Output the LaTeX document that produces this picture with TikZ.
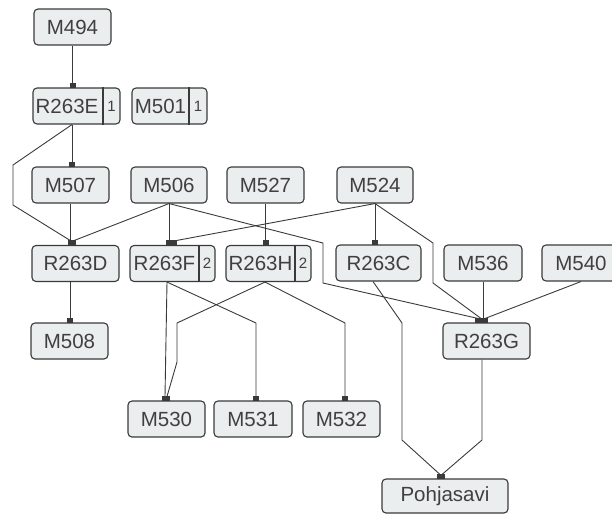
\documentclass[tikz,border=0pt]{standalone}
\usepackage{fontspec}
\setmainfont{Liberation Sans}
\usetikzlibrary{arrows.meta,calc}
\definecolor{boxfill}{HTML}{EBEEEE}
\definecolor{linec}{HTML}{3A3A3A}
\definecolor{txtc}{HTML}{404040}
\newcommand\lblfont{\fontsize{20.5}{24}\selectfont}
\newcommand\numfont{\fontsize{15}{17}\selectfont}
\tikzset{
  box/.style={draw=linec, fill=boxfill, rounded corners=4pt, line width=1.1pt,
    minimum height=36pt, inner sep=0pt, font=\lblfont, text=txtc},
  lbl/.style={inner sep=0pt, font=\lblfont, text=txtc},
  num/.style={inner sep=0pt, font=\numfont, text=txtc},
  divider/.style={draw=linec, line width=1.1pt},
  link/.style={draw=linec, line width=0.9pt, -{Square[length=4.5pt,width=6pt]}},
}
\begin{document}
\begin{tikzpicture}[x=1pt,y=-1pt]
\useasboundingbox (0,0) rectangle (612,515);
% row 1
\node[box, minimum width=77pt] (m494) at (72.5,27) {M494};
% row 2
\node[box, minimum width=87pt] (r263e) at (76.5,106) {};
\node[lbl] (r263eL) at (67,106) {R263E};
\draw[divider] (r263e.north -| 103,0) -- (r263e.south -| 103,0);
\node[num] (r263eN) at (111.5,106) {1};
\node[box, minimum width=75pt] (m501) at (169.5,106) {};
\node[lbl] (m501L) at (160.5,106) {M501};
\draw[divider] (m501.north -| 189,0) -- (m501.south -| 189,0);
\node[num] (m501N) at (198,106) {1};
% row 3
\node[box, minimum width=77pt] (m507) at (70.5,185) {M507};
\node[box, minimum width=76pt] (m506) at (169,185) {M506};
\node[box, minimum width=77pt] (m527) at (265.5,185) {M527};
\node[box, minimum width=76pt] (m524) at (375,185) {M524};
% row 4
\node[box, minimum width=87pt] (r263d) at (75.5,263.5) {R263D};
\node[box, minimum width=85pt] (r263f) at (172.5,263.5) {};
\node[lbl] (r263fL) at (164.5,263.5) {R263F};
\draw[divider] (r263f.north -| 199,0) -- (r263f.south -| 199,0);
\node[num] (r263fN) at (207,263.5) {2};
\node[box, minimum width=85pt] (r263h) at (268.5,263.5) {};
\node[lbl] (r263hL) at (260.5,263.5) {R263H};
\draw[divider] (r263h.north -| 295,0) -- (r263h.south -| 295,0);
\node[num] (r263hN) at (303,263.5) {2};
\node[box, minimum width=85pt] (r263c) at (378.5,263) {R263C};
\node[box, minimum width=78pt] (m536) at (483,263) {M536};
\node[box, minimum width=78pt] (m540) at (581,263) {M540};
% row 5
\node[box, minimum width=77pt] (m508) at (69.5,341) {M508};
\node[box, minimum width=87pt] (r263g) at (486.5,341) {R263G};
% row 6
\node[box, minimum width=77pt] (m530) at (166.5,419) {M530};
\node[box, minimum width=78pt] (m531) at (253,419) {M531};
\node[box, minimum width=77pt] (m532) at (341.5,419) {M532};
% row 7
\node[box, minimum width=126pt, minimum height=34pt] (pohj) at (445,496) {Pohjasavi};
% connectors
\draw[link] (m494.south) -- (m494.south |- r263e.north);
\draw[link] (72,0 |- r263e.south) -- (72,0 |- m507.north);
\draw[link] (72,0 |- r263e.south) -- (13,165) -- (13,205) -- ($(71,0 |- r263d.north)+(0,-4)$) -- (71,0 |- r263d.north);
\draw[link] (m507.south) -- (m507.south |- r263d.north);
\draw[link] (m506.south) -- ($(73,0 |- r263d.north)+(0,-4)$) -- (73,0 |- r263d.north);
\draw[link] (m506.south) -- (m506.south |- r263f.north);
\draw[link] (m506.south) -- (323,243) -- (323,283) -- ($(478,0 |- r263g.north)+(0,-4)$) -- (478,0 |- r263g.north);
\draw[link] (m527.south) -- (m527.south |- r263h.north);
\draw[link] (m524.south) -- ($(174,0 |- r263f.north)+(0,-4)$) -- (174,0 |- r263f.north);
\draw[link] (m524.south) -- (m524.south |- r263c.north);
\draw[link] (m524.south) -- (433,243) -- (433,283) -- ($(481,0 |- r263g.north)+(0,-4)$) -- (481,0 |- r263g.north);
\draw[link] (m536.south) -- (m536.south |- r263g.north);
\draw[link] (m540.south) -- ($(485,0 |- r263g.north)+(0,-4)$) -- (485,0 |- r263g.north);
\draw[link] (70,0 |- r263d.south) -- (70,0 |- m508.north);
\draw[link] (167,0 |- r263f.south) -- ($(165,0 |- m530.north)+(0,-4)$) -- (165,0 |- m530.north);
\draw[link] (167,0 |- r263f.south) -- (256,323) -- (256,0 |- m531.north);
\draw[link] (265,0 |- r263h.south) -- (177,323) -- (177,362) -- ($(167,0 |- m530.north)+(0,-4)$) -- (167,0 |- m530.north);
\draw[link] (265,0 |- r263h.south) -- (345,323) -- (345,0 |- m532.north);
\draw[link] (373,0 |- r263c.south) -- (402,323) -- (402,440) -- ($(440,0 |- pohj.north)+(0,-4)$) -- (440,0 |- pohj.north);
\draw[link] (482,0 |- r263g.south) -- (482,440) -- ($(442,0 |- pohj.north)+(0,-4)$) -- (442,0 |- pohj.north);
\end{tikzpicture}
\end{document}
